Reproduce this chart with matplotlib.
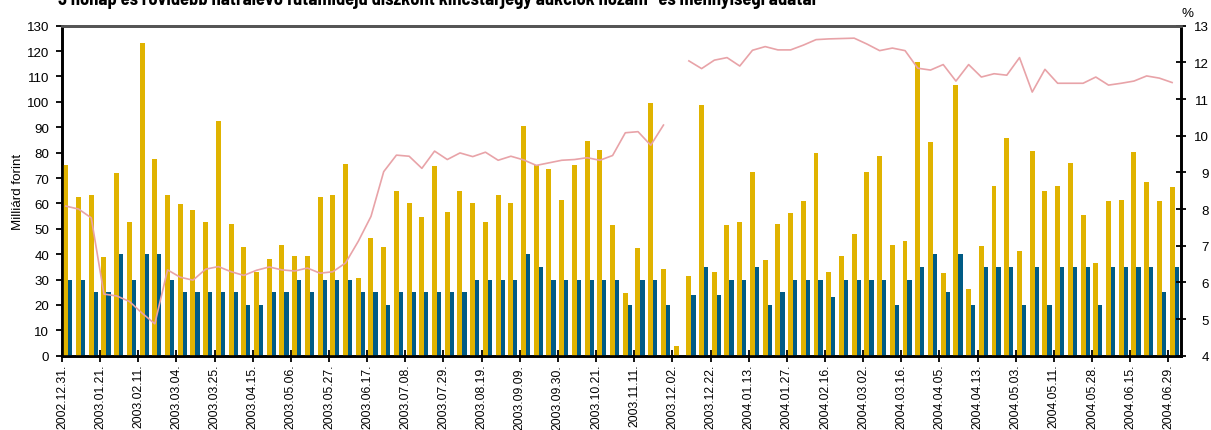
"""Discount T-bill auctions (3 months and shorter): amounts and yields."""

import matplotlib

matplotlib.use("Agg")

import matplotlib.pyplot as plt
import numpy as np

plt.rcParams["font.family"] = ["Liberation Sans", "DejaVu Sans"]

TITLE = ("3 hónap és rövidebb hátralévő futamidejű diszkont kincstárjegy "
         "aukciók hozam- és mennyiségi adatai")

# every third auction gets a date label
tick_labels = [
    "2002.12.31.", "2003.01.21.", "2003.02.11.", "2003.03.04.", "2003.03.25.",
    "2003.04.15.", "2003.05.06.", "2003.05.27.", "2003.06.17.", "2003.07.08.",
    "2003.07.29.", "2003.08.19.", "2003.09.09.", "2003.09.30.", "2003.10.21.",
    "2003.11.11.", "2003.12.02.", "2003.12.22.", "2004.01.13.", "2004.01.27.",
    "2004.02.16.", "2004.03.02.", "2004.03.16.", "2004.04.05.", "2004.04.13.",
    "2004.05.03.", "2004.05.11.", "2004.05.28.", "2004.06.15.", "2004.06.29.",
]

# bids (billion HUF)
bids = [
    75, 62.5, 63.5, 38.8, 72, 52.7, 123, 77.5, 63.2, 59.8,
    57.4, 52.8, 92.5, 51.8, 42.8, 32.8, 38, 43.5, 39.2, 39.2,
    62.4, 63.5, 75.5, 30.8, 46.5, 43, 64.8, 60, 54.5, 74.8,
    56.8, 64.8, 60, 52.8, 63.5, 60, 90.5, 75.2, 73.5, 61.2,
    75.2, 84.5, 81, 51.3, 24.8, 42.6, 99.5, 34.3, 3.8, 31.5,
    98.8, 33, 51.3, 52.5, 72.5, 37.8, 51.7, 56.4, 60.8, 79.8,
    33, 39.4, 48.1, 72.2, 78.5, 43.7, 45.3, 115.8, 84, 32.7,
    106.6, 26.3, 43.4, 67, 85.6, 41.4, 80.5, 64.7, 67, 75.8,
    55.6, 36.6, 61.1, 61.5, 80.1, 68.6, 61.1, 66.6,
]

# accepted amounts (billion HUF)
accepted = [
    30, 30, 25, 25, 40, 30, 40, 40, 30, 25,
    25, 25, 25, 25, 20, 20, 25, 25, 30, 25,
    30, 30, 30, 25, 25, 20, 25, 25, 25, 25,
    25, 25, 30, 30, 30, 30, 40, 35, 30, 30,
    30, 30, 30, 30, 20, 30, 30, 20, 0, 24,
    35, 24, 30, 30, 35, 20, 25, 30, 30, 30,
    23, 30, 30, 30, 30, 20, 30, 35, 40, 25,
    40, 20, 35, 35, 35, 20, 35, 20, 35, 35,
    35, 20, 35, 35, 35, 35, 25, 35,
]

# average yield (%), no result on 2003.12.02.
yields = [
    8.08, 8.0, 7.76, 5.68, 5.63, 5.48, 5.16, 4.87, 6.34, 6.14,
    6.06, 6.36, 6.43, 6.29, 6.19, 6.33, 6.42, 6.34, 6.31, 6.39,
    6.25, 6.29, 6.53, 7.12, 7.8, 9.02, 9.47, 9.44, 9.11, 9.58,
    9.35, 9.53, 9.43, 9.55, 9.33, 9.44, 9.34, 9.19, 9.26, 9.33,
    9.35, 9.4, 9.33, 9.46, 10.08, 10.11, 9.74, 10.29, np.nan, 12.04,
    11.83, 12.06, 12.13, 11.9, 12.33, 12.43, 12.34, 12.34, 12.47, 12.62,
    12.64, 12.65, 12.66, 12.5, 12.32, 12.39, 12.32, 11.84, 11.79, 11.94,
    11.49, 11.94, 11.6, 11.69, 11.65, 12.13, 11.19, 11.81, 11.43, 11.43,
    11.43, 11.6, 11.38, 11.43, 11.49, 11.63, 11.57, 11.45,
]

YELLOW = "#e0b300"
BLUE = "#005b85"
PINK = "#e8a3a8"
FS = 9.6

n = len(bids)
x = np.arange(n)

fig = plt.figure(figsize=(12.11, 4.31), dpi=100)
ax = fig.add_axes([62 / 1211, 1 - 356.7 / 431, 1119 / 1211, 330 / 431])

ax.bar(x + 0.10, bids, width=0.39, align="edge", color=YELLOW, zorder=3)
ax.bar(x + 0.49, accepted, width=0.33, align="edge", color=BLUE, zorder=3)

ax.set_xlim(0, n)
ax.set_ylim(0, 130)
ax.set_yticks(np.arange(0, 131, 10))
ax.set_xticks(np.arange(0, n, 3))
ax.set_xticklabels(tick_labels, rotation=90, va="top", ha="center")
ax.tick_params(axis="y", direction="out", length=4.3, width=1.3, labelsize=FS, pad=5)
ax.tick_params(axis="x", direction="inout", length=8.6, width=1.3, labelsize=8.8, pad=1.5)
ax.set_ylabel("Milliárd forint", fontsize=FS, labelpad=2)

ax2 = ax.twinx()
ax2.plot(x + 0.3, yields, color=PINK, lw=1.2, zorder=4)
ax2.set_ylim(4, 13)
ax2.set_yticks(np.arange(4, 14, 1))
ax2.tick_params(axis="y", direction="inout", length=7.2, width=1.3, labelsize=FS, pad=16.6)
for lbl in ax2.get_yticklabels():
    lbl.set_horizontalalignment("right")

fig.text(1187 / 1211, 1 - 14 / 431, "%", ha="center", va="center", fontsize=FS)

for a in (ax, ax2):
    for side in ("left", "right", "bottom"):
        a.spines[side].set_color("black")
        a.spines[side].set_linewidth(1.9)
    a.spines["top"].set_color("#555555")
    a.spines["top"].set_linewidth(2.0)

fig.text(58 / 1211, 1 - 5 / 431, TITLE, ha="left", va="baseline",
         fontsize=13.3, fontweight="bold", family="Barlow Semi Condensed")

fig.savefig("out.png", dpi=100)
plt.close(fig)
